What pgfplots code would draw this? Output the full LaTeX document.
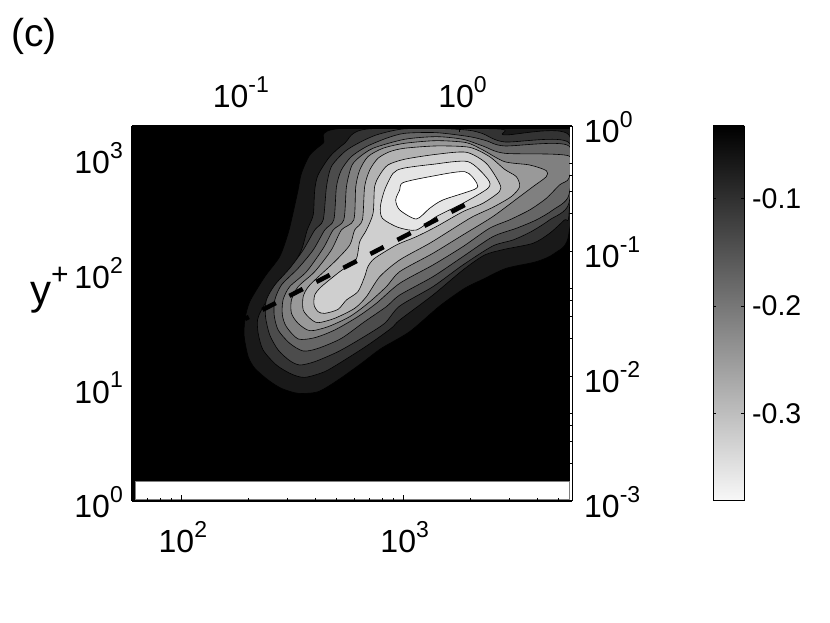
\documentclass[border=0pt]{standalone}
\usepackage{fontspec}
\setmainfont{Liberation Sans}
\usepackage{pgfplots}
\pgfplotsset{compat=1.18}

% tick label: 10 with a raised exponent
\newcommand{\pw}[1]{10\raisebox{15.5pt}{\fontsize{23}{23}\selectfont #1}}
\newcommand{\tickfont}{\fontsize{32}{38}\selectfont}

\definecolor{c1}{gray}{0.10}
\definecolor{c2}{gray}{0.20}
\definecolor{c3}{gray}{0.30}
\definecolor{c4}{gray}{0.40}
\definecolor{c5}{gray}{0.50}
\definecolor{c6}{gray}{0.60}
\definecolor{c7}{gray}{0.70}
\definecolor{c8}{gray}{0.81}
\definecolor{c9}{gray}{0.90}

\pgfplotsset{
  frame/.style={
    scale only axis, width=440pt, height=375pt,
    at={(132pt,122pt)}, anchor=south west,
    xmin=1.775, xmax=3.759,
    tick align=inside, major tick length=6pt, minor tick length=3pt,
    tick style={black, line width=0.9pt},
  },
  lev/.style={fill=#1, draw=black, line width=0.6pt, line join=round, mark=none,
    smooth cycle, tension=0.45},
}

\begin{document}
\begin{tikzpicture}
\path[use as bounding box] (0,0) rectangle (830pt,623pt);

% lower x axis and left y axis, log10 of the values
\begin{axis}[frame,
  ymin=0, ymax=3.27,
  axis on top,
  axis x line*=bottom, axis y line*=left,
  axis line style={line width=2pt, -},
  xtick={2,3}, xticklabels={\pw{2},\pw{3}},
  minor xtick={1.845,1.903,1.954,2.301,2.477,2.602,2.699,2.778,2.845,2.903,2.954,3.301,3.477,3.602,3.699},
  ytick={0,1,2,3}, yticklabels={\pw{0},\pw{1},\pw{2},\pw{3}},
  minor ytick={0.301,0.477,0.602,0.699,1.301,1.477,1.602,1.699,2.301,2.477,2.602,2.699},
  xticklabel style={font=\tickfont, inner sep=0pt, anchor=base, xshift=1pt, yshift=-52pt},
  yticklabel style={font=\tickfont, inner sep=0pt, anchor=base east, xshift=-9pt, yshift=-17pt},
]
% black field
\addplot[fill=black, draw=black, mark=none] coordinates {(1.775,0)(3.745,0)(3.745,3.27)(1.775,3.27)} --cycle;

% contour levels, outermost first
\addplot[lev=c1] coordinates {(2.727,3.250)(3.745,3.250)(3.745,2.334)(3.680,2.160)(3.598,2.087)(3.462,2.029)(3.357,1.933)(3.275,1.855)(3.162,1.700)(3.027,1.477)(2.899,1.331)(2.809,1.200)(2.704,1.055)(2.614,0.953)(2.524,0.939)(2.449,0.982)(2.389,1.055)(2.329,1.157)(2.299,1.259)(2.281,1.433)(2.284,1.578)(2.306,1.738)(2.374,1.956)(2.441,2.131)(2.479,2.334)(2.501,2.509)(2.524,2.712)(2.539,2.857)(2.577,3.017)(2.637,3.119)};
\addplot[lev=c2] coordinates {(2.839,3.244)(3.425,3.244)(3.455,3.192)(3.745,3.192)(3.745,2.494)(3.725,2.451)(3.658,2.334)(3.583,2.247)(3.455,2.195)(3.365,2.145)(3.267,2.014)(3.132,1.796)(2.982,1.578)(2.944,1.506)(2.839,1.360)(2.734,1.230)(2.644,1.128)(2.554,1.078)(2.494,1.107)(2.426,1.186)(2.366,1.317)(2.344,1.462)(2.341,1.578)(2.359,1.666)(2.419,1.855)(2.486,2.000)(2.539,2.189)(2.565,2.363)(2.592,2.494)(2.599,2.712)(2.614,2.843)(2.667,3.003)(2.734,3.119)};
\addplot[lev=c3] coordinates {(2.997,3.244)(3.177,3.247)(3.297,3.232)(3.357,3.203)(3.455,3.131)(3.745,3.125)(3.745,2.596)(3.658,2.451)(3.575,2.349)(3.493,2.276)(3.402,2.224)(3.267,2.058)(3.132,1.869)(2.982,1.700)(2.914,1.549)(2.809,1.418)(2.704,1.302)(2.599,1.215)(2.532,1.186)(2.486,1.224)(2.434,1.317)(2.396,1.448)(2.377,1.608)(2.381,1.753)(2.419,1.884)(2.486,2.029)(2.547,2.189)(2.599,2.363)(2.637,2.451)(2.652,2.741)(2.674,2.916)(2.734,3.046)(2.794,3.119)(2.877,3.192)};
\addplot[lev=c4] coordinates {(3.004,3.206)(3.147,3.212)(3.297,3.177)(3.372,3.142)(3.455,3.096)(3.745,3.096)(3.745,2.669)(3.673,2.538)(3.598,2.451)(3.508,2.378)(3.402,2.305)(3.267,2.131)(3.132,1.956)(2.982,1.796)(2.922,1.695)(2.824,1.564)(2.719,1.418)(2.614,1.331)(2.547,1.308)(2.486,1.375)(2.434,1.491)(2.416,1.622)(2.419,1.753)(2.449,1.884)(2.524,2.029)(2.592,2.189)(2.644,2.363)(2.685,2.451)(2.697,2.741)(2.719,2.886)(2.764,3.003)(2.832,3.090)(2.922,3.163)};
\addplot[lev=c5] coordinates {(3.004,3.154)(3.147,3.177)(3.267,3.154)(3.357,3.096)(3.455,3.032)(3.745,3.009)(3.745,2.814)(3.703,2.756)(3.643,2.639)(3.568,2.538)(3.477,2.451)(3.387,2.378)(3.267,2.218)(3.132,2.058)(2.982,1.898)(2.877,1.724)(2.794,1.608)(2.689,1.491)(2.599,1.424)(2.524,1.413)(2.471,1.520)(2.453,1.622)(2.456,1.753)(2.486,1.869)(2.562,2.000)(2.637,2.203)(2.682,2.363)(2.730,2.451)(2.742,2.741)(2.764,2.916)(2.794,2.988)(2.862,3.076)};
\addplot[lev=c6] coordinates {(3.004,3.119)(3.147,3.142)(3.282,3.125)(3.357,3.061)(3.455,2.959)(3.568,2.930)(3.643,2.881)(3.643,2.828)(3.583,2.741)(3.523,2.654)(3.402,2.480)(3.267,2.320)(3.132,2.160)(2.982,2.000)(2.922,1.869)(2.839,1.724)(2.757,1.608)(2.659,1.520)(2.577,1.485)(2.524,1.549)(2.494,1.637)(2.494,1.753)(2.524,1.869)(2.599,2.000)(2.674,2.189)(2.719,2.363)(2.775,2.451)(2.784,2.741)(2.802,2.886)(2.839,3.003)(2.907,3.076)};
\addplot[lev=c7] coordinates {(3.004,3.076)(3.147,3.096)(3.297,3.084)(3.387,3.003)(3.455,2.892)(3.508,2.828)(3.523,2.741)(3.485,2.654)(3.402,2.561)(3.312,2.480)(3.237,2.392)(3.117,2.247)(2.982,2.102)(2.892,1.956)(2.832,1.782)(2.779,1.680)(2.689,1.593)(2.614,1.555)(2.577,1.593)(2.547,1.666)(2.547,1.782)(2.577,1.884)(2.689,2.087)(2.757,2.232)(2.779,2.363)(2.814,2.451)(2.824,2.741)(2.847,2.886)(2.884,2.988)(2.937,3.046)};
\addplot[lev=c8] coordinates {(2.869,2.741)(2.892,2.843)(2.929,2.930)(3.004,2.980)(3.147,3.023)(3.282,3.041)(3.372,2.945)(3.432,2.770)(3.432,2.698)(3.357,2.596)(3.267,2.523)(3.147,2.392)(3.057,2.305)(2.967,2.232)(2.869,2.116)(2.839,2.044)(2.824,1.956)(2.794,1.826)(2.742,1.753)(2.704,1.671)(2.644,1.636)(2.614,1.651)(2.596,1.709)(2.599,1.796)(2.629,1.869)(2.712,2.000)(2.784,2.102)(2.802,2.262)(2.832,2.363)(2.862,2.509)};
\addplot[lev=c9] coordinates {(2.914,2.712)(2.952,2.857)(2.997,2.901)(3.132,2.936)(3.290,2.959)(3.380,2.805)(3.380,2.727)(3.267,2.596)(3.147,2.480)(3.057,2.363)(2.974,2.387)(2.904,2.465)(2.895,2.567)};
\addplot[lev=white] coordinates {(2.982,2.712)(2.997,2.776)(3.117,2.828)(3.275,2.872)(3.330,2.770)(3.320,2.718)(3.177,2.625)(3.117,2.552)(3.057,2.459)(2.982,2.538)(2.964,2.625)};

% edges of the field: black band on top, margin on the right, empty strip below
\addplot[fill=black, draw=none, mark=none] coordinates {(1.775,3.248)(3.745,3.248)(3.745,3.27)(1.775,3.27)} --cycle;
\addplot[fill=white, draw=none, mark=none] coordinates {(3.748,0)(3.759,0)(3.759,3.27)(3.748,3.27)} --cycle;
\addplot[fill=white, draw=gray, line width=0.6pt, mark=none] coordinates {(1.788,0.012)(3.745,0.012)(3.745,0.174)(1.788,0.174)} --cycle;

% dashed ridge line
\addplot[black, line width=4.5pt, dash pattern=on 15pt off 15.4pt, mark=none] coordinates {(3.275,2.581)(2.284,1.587)};
\end{axis}

% upper x axis and right y axis
\begin{axis}[frame,
  xmin=-1.477, xmax=0.507,
  ymin=-3, ymax=0,
  axis x line*=top, axis y line*=right,
  axis line style={line width=1pt, -},
  xtick={-1,0}, xticklabels={\pw{-1},\pw{0}},
  minor xtick={-1.398,-1.301,-1.222,-1.155,-1.097,-1.046,-0.699,-0.523,-0.398,-0.301,-0.222,-0.155,-0.097,-0.046,0.301,0.477},
  ytick={-3,-2,-1,0}, yticklabels={\pw{-3},\pw{-2},\pw{-1},\pw{0}},
  minor ytick={-2.699,-2.523,-2.398,-2.301,-1.699,-1.523,-1.398,-1.301,-0.699,-0.523,-0.398,-0.301},
  xticklabel style={font=\tickfont, inner sep=0pt, anchor=base, xshift=3pt, yshift=18pt},
  yticklabel style={font=\tickfont, inner sep=0pt, anchor=base west, xshift=12pt, yshift=-17pt},
]
\end{axis}

% colour bar
\begin{axis}[
  scale only axis, width=31pt, height=374pt,
  at={(713pt,123pt)}, anchor=south west,
  xmin=0, xmax=1, ymin=-0.38, ymax=-0.033,
  axis on top, xtick=\empty,
  ytick={-0.3,-0.2,-0.1}, yticklabels={-0.3,-0.2,-0.1},
  yticklabel pos=right, tick align=inside, major tick length=3pt,
  tick style={black, line width=0.8pt},
  axis line style={line width=0.9pt},
  yticklabel style={font=\fontsize{28.5}{34}\selectfont, inner sep=0pt, xshift=8pt},
]
\addplot[draw=none, bottom color=white!97!black, top color=black, mark=none] coordinates {(0,-0.38)(1,-0.38)(1,-0.033)(0,-0.033)} --cycle;
\end{axis}

\node[anchor=base west, inner sep=0pt, font=\fontsize{39}{46}\selectfont] at (11pt,576pt) {(c)};
\node[anchor=base west, inner sep=0pt, font=\fontsize{42}{48}\selectfont] at (30pt,318pt) {y\raisebox{20pt}{\fontsize{30}{30}\selectfont +}};
\end{tikzpicture}
\end{document}
